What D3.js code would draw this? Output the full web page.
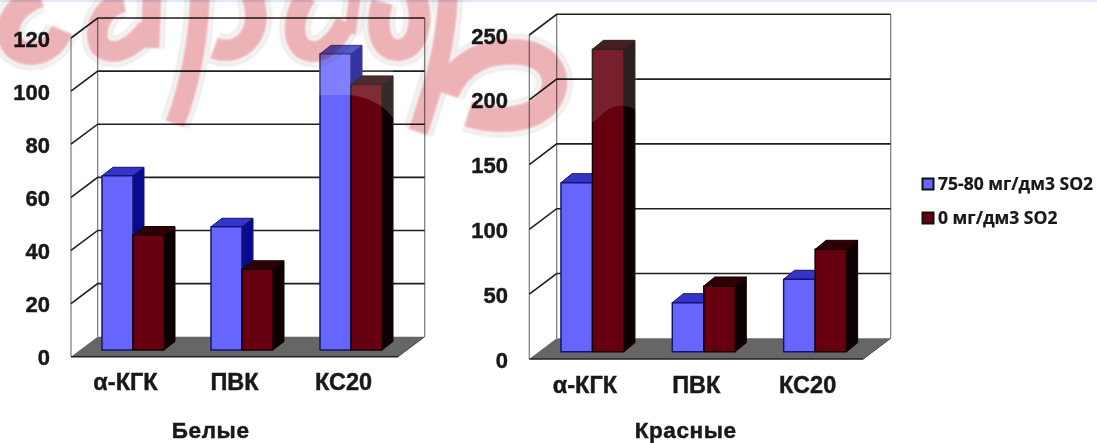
<!DOCTYPE html>
<html>
<head>
<meta charset="utf-8">
<script src="https://cdn.jsdelivr.net/npm/d3@7"></script>
<style>
  html, body { margin: 0; padding: 0; background: #fff; overflow: hidden; }
  svg { display: block; filter: blur(0.6px); }
  text { font-family: "Liberation Sans", Arial, sans-serif; font-weight: bold; fill: #181818; stroke: #181818; stroke-width: 0.45px; }
</style>
</head>
<body>
<div id="chart"></div>
<script>
var categories  = ["α-КГК", "ПВК", "КС20"];
var seriesNames = ["75-80 мг/дм3 SO2", "0 мг/дм3 SO2"];

var whiteTicks = [0, 20, 40, 60, 80, 100, 120];
var whiteLow   = [65.6, 46.4, 111.5];
var whiteZero  = [43.3, 30.4, 100];

var redTicks = [0, 50, 100, 150, 200, 250];
var redLow   = [130.4, 37.8, 55.9];
var redZero  = [233.3, 50.7, 79];

var blue = { front: "#6666ff", side: "#0a0a90", top: "#3434c8", edge: "#141470" };
var wine = { front: "#660010", side: "#0c0001", top: "#2c0005", edge: "#140002" };

var svg = d3.select("#chart").append("svg")
    .attr("width", 1097)
    .attr("height", 443);

svg.append("rect").attr("width", 1097).attr("height", 2).attr("fill", "#dfe8f7");

function bars3d(params) {
  var left = params.left, right = params.right,
      bottom = params.bottom, top = params.top,
      depthX = params.depthX, depthY = params.depthY,
      ticks = params.ticks;

  var y = d3.scaleLinear().domain([0, d3.max(ticks)]).range([bottom, top]);
  var x = d3.scaleBand().domain(categories).range([left, right]);

  var g = svg.append("g");

  /* floor */
  var floor = [[left, bottom], [right, bottom], [right + depthX, bottom - depthY], [left + depthX, bottom - depthY]];
  g.append("polygon")
    .attr("points", floor.join(" "))
    .attr("fill", "#666");

  /* walls */
  g.append("path")
    .attr("d", d3.line()([[left, y(0)], [left, y(d3.max(ticks))]]))
    .attr("stroke", "#777").attr("stroke-width", 1.2);
  g.append("path")
    .attr("d", d3.line()([[left + depthX, y(0) - depthY], [left + depthX, y(d3.max(ticks)) - depthY]]))
    .attr("stroke", "#777").attr("stroke-width", 1.2);
  g.append("path")
    .attr("d", d3.line()([[right + depthX, y(0) - depthY], [right + depthX, y(d3.max(ticks)) - depthY]]))
    .attr("stroke", "#777").attr("stroke-width", 1.2);

  /* grid lines, skipping the one on the floor */
  g.selectAll(".grid")
    .data(ticks.filter(function(d){ return d > 0; }))
    .enter().append("path")
    .attr("class", "grid")
    .attr("fill", "none")
    .attr("stroke", "#1f1f1f")
    .attr("stroke-width", 1.6)
    .attr("d", function(d){
      return d3.line()([[left, y(d)], [left + depthX, y(d) - depthY], [right + depthX, y(d) - depthY]]);
    });

  g.append("path")
    .attr("d", d3.line()([[left, bottom], [right, bottom]]))
    .attr("stroke", "#222").attr("stroke-width", 1.6);
  g.append("path")
    .attr("d", d3.line()([[right, bottom], [right + depthX, bottom - depthY]]))
    .attr("stroke", "#444").attr("stroke-width", 1);

  /* bars */
  var barWidth = params.barWidth, shift = params.barShift,
      lift = params.barLift, bx = params.barDepthX, by = params.barDepthY;

  var rows = [];
  categories.forEach(function(c, i){
    rows.push({ cat: c, value: params.low[i], color: blue, slot: 0 });
    rows.push({ cat: c, value: params.zero[i], color: wine, slot: 1 });
  });

  var bar = g.selectAll(".bar")
    .data(rows)
    .enter().append("g")
    .attr("class", "bar")
    .attr("stroke-linejoin", "round");

  function corners(d) {
    var x0 = x(d.cat) + x.bandwidth() / 2 + shift + (d.slot - 1) * barWidth,
        y0 = y(0) - lift,
        y1 = y(d.value) - lift;
    return { x0: x0, x1: x0 + barWidth, y0: y0, y1: y1 };
  }

  bar.append("polygon")
    .attr("fill", function(d){ return d.color.side; })
    .attr("stroke", function(d){ return d.color.edge; })
    .attr("points", function(d){
      var c = corners(d);
      return [[c.x1, c.y1], [c.x1 + bx, c.y1 - by], [c.x1 + bx, c.y0 - by], [c.x1, c.y0]].join(" ");
    });
  bar.append("polygon")
    .attr("fill", function(d){ return d.color.top; })
    .attr("stroke", function(d){ return d.color.edge; })
    .attr("points", function(d){
      var c = corners(d);
      return [[c.x0, c.y1], [c.x0 + bx, c.y1 - by], [c.x1 + bx, c.y1 - by], [c.x1, c.y1]].join(" ");
    });
  bar.append("rect")
    .attr("fill", function(d){ return d.color.front; })
    .attr("stroke", function(d){ return d.color.edge; })
    .attr("stroke-width", 1.5)
    .attr("x", function(d){ return corners(d).x0; })
    .attr("y", function(d){ return corners(d).y1; })
    .attr("width", barWidth)
    .attr("height", function(d){ var c = corners(d); return c.y0 - c.y1; });

  /* axes */
  var yAxis = g.append("g")
    .attr("transform", "translate(" + params.labelX + ",1)")
    .call(d3.axisLeft(y).tickValues(ticks).tickSize(0).tickPadding(0));
  yAxis.select(".domain").remove();
  yAxis.selectAll("text").style("font-size", "22px").style("font-family", null);

  var xAxis = g.append("g")
    .attr("transform", "translate(0," + (bottom + 17) + ")")
    .call(d3.axisBottom(x).tickSize(0).tickPadding(0));
  xAxis.select(".domain").remove();
  xAxis.selectAll("text").style("font-size", "23.5px").style("font-family", null);

  g.append("text")
    .attr("x", params.titleX)
    .attr("y", 438)
    .attr("text-anchor", "middle")
    .style("font-size", "22.5px")
    .style("letter-spacing", "0.6px")
    .text(params.title);
}

bars3d({
  title: "Белые", titleX: 210.7, labelX: 50,
  left: 71, right: 398, bottom: 356.7, top: 38,
  depthX: 26.7, depthY: 20,
  barWidth: 31, barShift: 7.5, barLift: 6.7, barDepthX: 11, barDepthY: 8.5,
  ticks: whiteTicks, low: whiteLow, zero: whiteZero
});

bars3d({
  title: "Красные", titleX: 685.7, labelX: 508,
  left: 529.3, right: 863.3, bottom: 359, top: 35,
  depthX: 27.4, depthY: 20.7,
  barWidth: 31.5, barShift: 7.5, barLift: 7.3, barDepthX: 11, barDepthY: 9,
  ticks: redTicks, low: redLow, zero: redZero
});

/* glossy patch left on the tallest bars by the picture's overlay */
svg.append("path")
  .attr("d", "M319 40 L393 40 L393 118 C384 105 366 95 345 95 L319 95 Z")
  .attr("fill", "#fff").attr("opacity", 0.17);
svg.append("path")
  .attr("d", "M592 32 L637 32 L637 111 C630 105 615 103 606 111 C600 116 596 120 592 123 Z")
  .attr("fill", "#fff").attr("opacity", 0.12);

/* pink watermark over everything in the top band */
var watermark = [
  { d: "M40 -4 C12 6 0 30 14 47 C28 60 52 54 62 30", w: 23 },
  { d: "M124 2 C102 6 92 30 100 46 C112 58 132 50 148 28", w: 21 },
  { d: "M152 -4 L150 48", w: 19 },
  { d: "M200 -4 C198 50 188 90 175 124", w: 20 },
  { d: "M214 48 C240 58 266 34 252 -4", w: 22 },
  { d: "M306 -4 C292 18 292 38 302 48 C318 58 334 46 346 22", w: 21 },
  { d: "M355 -4 L350 34", w: 12 },
  { d: "M382 2 C374 32 382 52 400 50 C418 48 424 22 416 -4", w: 22 },
  { d: "M448 -4 C446 50 432 90 418 132", w: 20 },
  { d: "M446 94 C458 60 490 50 518 52 C552 54 562 80 549 100 C536 120 500 124 468 114", w: 26 }
];

var mark = svg.append("g")
  .style("mix-blend-mode", "multiply")
  .style("filter", "blur(1.2px)")
  .attr("fill", "none");
mark.selectAll(".halo").data(watermark).enter().append("path")
  .attr("class", "halo").attr("d", function(d){ return d.d; })
  .attr("stroke", "#e6e8e6").attr("stroke-width", function(d){ return d.w + 10; });
mark.selectAll(".halo2").data(watermark).enter().append("path")
  .attr("class", "halo2").attr("d", function(d){ return d.d; })
  .attr("stroke", "#fcfcfc").attr("stroke-width", function(d){ return d.w + 5; });
mark.selectAll(".ink").data(watermark).enter().append("path")
  .attr("class", "ink").attr("d", function(d){ return d.d; })
  .attr("stroke", "#ecb2b6").attr("stroke-width", function(d){ return d.w; });

/* legend */
var legendY = d3.scalePoint().domain(seriesNames).range([184, 218]);
var legend = svg.selectAll(".legend")
  .data(seriesNames)
  .enter().append("g")
  .attr("class", "legend")
  .attr("transform", function(d){ return "translate(922," + legendY(d) + ")"; });

legend.append("rect")
  .attr("x", 0.5).attr("y", -5.5)
  .attr("width", 11).attr("height", 11)
  .attr("fill", function(d, i){ return i === 0 ? blue.front : wine.front; })
  .attr("stroke", "#111").attr("stroke-width", 2);

legend.append("text")
  .attr("x", 16)
  .attr("y", 6)
  .style("font-family", "'Open Sans', sans-serif")
  .style("font-size", "17.5px")
  .style("stroke-width", "0.2px")
  .text(function(d){ return d; });
</script>
</body>
</html>
